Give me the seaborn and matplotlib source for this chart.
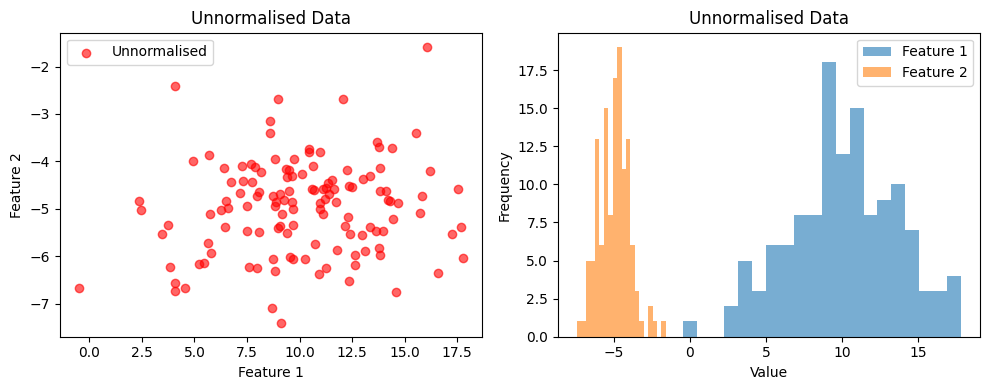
import numpy as np
import pandas as pd
import matplotlib
matplotlib.use("Agg")
import matplotlib.pyplot as plt
import seaborn as sns

# Scatter data (Feature 1, Feature 2)
feature1 = [4.08, 16.06, 8.98, 12.07, 2.36, 2.46, -0.48, 3.47, 3.74, 3.85, 4.09, 4.09,
            8.58, 8.58, 4.94, 5.70, 6.40, 7.25, 7.67, 7.89, 8.16, 8.84, 6.75, 7.30,
            7.73, 7.17, 8.08, 7.98, 8.73, 9.06, 8.90, 9.26, 8.84, 6.49, 6.62, 6.27,
            5.73, 7.51, 9.19, 6.47, 7.51, 8.08, 9.06, 8.96, 5.67, 5.80, 5.23, 5.46,
            4.55, 7.60, 7.98, 8.74, 8.84, 8.71, 9.12, 10.45, 10.45, 10.97, 9.74, 10.63,
            9.38, 9.50, 9.41, 9.62, 10.12, 12.24, 13.00, 13.35, 13.81, 13.67, 13.78, 11.54,
            11.35, 11.26, 11.12, 11.62, 11.40, 11.21, 11.73, 10.58, 10.71, 12.37, 12.51, 9.50,
            9.64, 9.69, 10.99, 10.96, 11.12, 12.29, 13.81, 9.69, 9.41, 12.16, 12.38, 12.97,
            13.34, 13.62, 10.72, 11.78, 12.64, 13.11, 13.78, 13.81, 9.53, 9.69, 10.26, 11.28,
            10.93, 12.64, 12.35, 15.53, 14.39, 16.23, 17.56, 15.85, 15.71, 14.11, 14.22, 14.30,
            14.70, 14.44, 13.99, 17.23, 17.66, 17.77, 16.58, 14.57]
feature2 = [-2.42, -1.58, -2.69, -2.69, -4.84, -5.03, -6.67, -5.53, -5.33, -6.22, -6.57, -6.73,
            -3.15, -3.41, -4.00, -3.87, -4.14, -4.10, -4.06, -4.12, -4.22, -3.95, -4.43, -4.42,
            -4.44, -4.67, -4.64, -4.73, -4.73, -4.69, -4.85, -4.81, -4.93, -4.83, -4.99, -5.03,
            -5.11, -4.94, -5.11, -5.38, -5.46, -5.48, -5.36, -5.41, -5.71, -5.93, -6.17, -6.13,
            -6.67, -6.23, -6.25, -6.06, -6.31, -7.09, -7.40, -3.73, -3.81, -3.81, -3.94, -4.10,
            -4.15, -4.18, -4.33, -4.31, -4.27, -4.19, -4.36, -4.30, -4.14, -3.59, -3.70, -4.38,
            -4.46, -4.55, -4.59, -4.59, -4.69, -4.79, -4.85, -4.58, -4.60, -4.52, -4.54, -4.63,
            -4.85, -5.01, -4.88, -5.01, -5.10, -5.16, -4.63, -5.34, -5.51, -5.36, -5.53, -5.55,
            -5.39, -5.47, -5.74, -5.86, -5.98, -5.88, -5.82, -5.98, -6.01, -6.06, -6.06, -6.24,
            -6.38, -6.19, -6.52, -3.41, -3.71, -4.21, -4.59, -4.72, -5.09, -4.63, -4.81, -4.84,
            -4.88, -5.22, -5.47, -5.53, -5.39, -6.04, -6.34, -6.74]

# Histogram counts (20 bins each) and bin ranges
hist_f1_counts = [1, 0, 0, 2, 5, 3, 6, 6, 8, 8, 18, 12, 15, 8, 9, 10, 7, 3, 3, 4]
hist_f1_range = (-0.47, 17.80)
hist_f2_counts = [1, 1, 5, 5, 13, 6, 15, 8, 17, 19, 11, 13, 6, 3, 1, 0, 2, 1, 0, 1]
hist_f2_range = (-7.41, -1.58)

fig, (ax1, ax2) = plt.subplots(1, 2, figsize=(9.89, 3.9), dpi=100)
fig.subplots_adjust(left=0.0607, right=0.9909, bottom=0.1367, top=0.916, wspace=0.18)

df = pd.DataFrame({"Feature 1": feature1, "Feature 2": feature2})
sns.scatterplot(data=df, x="Feature 1", y="Feature 2", ax=ax1, color="red", alpha=0.6,
                s=36, edgecolor="red", linewidth=1.0, label="Unnormalised")
ax1.set_title("Unnormalised Data")
ax1.set_xlabel("Feature 1")
ax1.set_ylabel("Feature 2")
ax1.legend(loc="upper left")


def centers(rng, n):
    e = np.linspace(rng[0], rng[1], n + 1)
    return (e[:-1] + e[1:]) / 2


sns.histplot(x=centers(hist_f1_range, len(hist_f1_counts)), weights=hist_f1_counts,
             bins=len(hist_f1_counts), binrange=hist_f1_range, ax=ax2,
             color="#1f77b4", alpha=0.6, linewidth=0, label="Feature 1")
sns.histplot(x=centers(hist_f2_range, len(hist_f2_counts)), weights=hist_f2_counts,
             bins=len(hist_f2_counts), binrange=hist_f2_range, ax=ax2,
             color="#ff7f0e", alpha=0.6, linewidth=0, label="Feature 2")
ax2.set_title("Unnormalised Data")
ax2.set_xlabel("Value")
ax2.set_ylabel("Frequency")
ax2.legend(loc="upper right")

fig.savefig("out.png", dpi=100)
